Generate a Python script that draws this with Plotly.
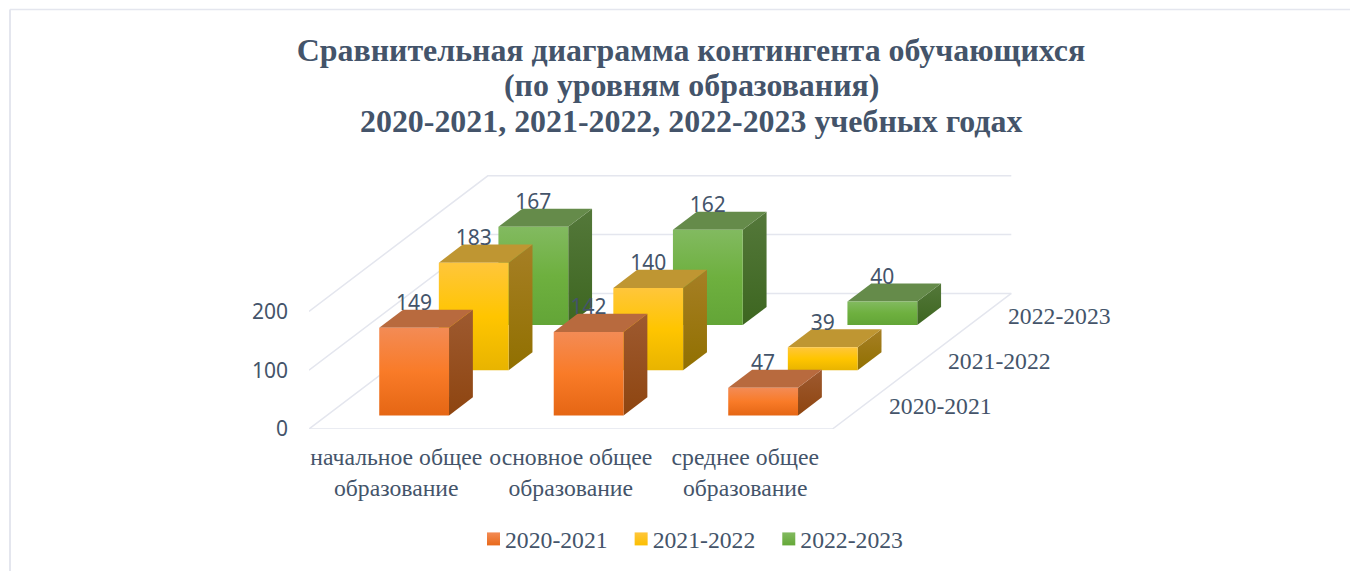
import plotly.graph_objects as go

# ---- data ----
categories = ["начальное общее<br>образование", "основное общее<br>образование", "среднее общее<br>образование"]
years = ["2020-2021", "2021-2022", "2022-2023"]
values_2020 = [149, 142, 47]
values_2021 = [183, 140, 39]
values_2022 = [167, 162, 40]
value_ticks = [0, 100, 200]
title_lines = ["Сравнительная диаграмма контингента обучающихся",
               "(по уровням образования)",
               "2020-2021, 2021-2022, 2022-2023 учебных годах"]

# ---- styling ----
series_values = [values_2020, values_2021, values_2022]
front_colors = [("#E56614", "#F97B28", "#F38B55"),
                ("#E8B400", "#FFC500", "#FFC63B"),
                ("#63A537", "#6EB03F", "#82BA60")]
top_colors = ["#B86A3E", "#BF9632", "#658B4A"]
side_colors = [("#8E4510", "#9E5A30"), ("#917000", "#A67F25"), ("#3D6620", "#54783A")]
legend_colors = [("#F38B55", "#E8691A"), ("#FFC63B", "#FBBF00"), ("#82BA60", "#65A838")]
TEXT = "#44546A"
GRID = "#E4E6EE"
SERIF = "Liberation Serif"
SANS = "Noto Sans"

# oblique projection: one depth step moves right (in categories) and up (in value units)
PX_PER_CAT = 174.5
PX_PER_VAL = 0.588
L, R, T, B = 309, 338, 175, 142
W, H = 1350, 571
DX = 59.6 / PX_PER_CAT
DY = 45.2 / PX_PER_VAL
N_CAT, N_DEPTH = len(categories), len(years)
GAP = 0.3
BAR = 0.4
LABEL_DROP = 9.5


def proj(cat, depth, val):
    return cat + depth * DX, val + depth * DY


def face(points, **kw):
    xs, ys = zip(*[proj(*p) for p in points])
    return go.Scatter(x=list(xs) + [xs[0]], y=list(ys) + [ys[0]], mode="lines", fill="toself",
                      line=dict(width=0), hoverinfo="skip", showlegend=False, cliponaxis=False, **kw)


def grad(stops):
    n = len(stops) - 1
    return dict(type="vertical", colorscale=[[i / n, c] for i, c in enumerate(stops)])


fig = go.Figure()

# wall and floor lines
for v in value_ticks:
    pts = [proj(0, 0, v), proj(0, N_DEPTH, v), proj(N_CAT, N_DEPTH, v)]
    fig.add_trace(go.Scatter(x=[p[0] for p in pts], y=[p[1] for p in pts], mode="lines",
                             line=dict(color=GRID, width=1.5), hoverinfo="skip", showlegend=False,
                             cliponaxis=False))
pts = [proj(0, 0, 0), proj(N_CAT, 0, 0), proj(N_CAT, N_DEPTH, 0)]
fig.add_trace(go.Scatter(x=[p[0] for p in pts], y=[p[1] for p in pts], mode="lines",
                         line=dict(color=GRID, width=1.5), hoverinfo="skip", showlegend=False,
                         cliponaxis=False))

# bars, back row first
for d in reversed(range(N_DEPTH)):
    for c, v in enumerate(series_values[d]):
        x0, x1 = c + GAP, c + GAP + BAR
        z0, z1 = d + GAP, d + GAP + BAR
        fig.add_trace(face([(x1, z0, 0), (x1, z1, 0), (x1, z1, v), (x1, z0, v)],
                           fillgradient=grad(side_colors[d])))
        fig.add_trace(face([(x0, z0, v), (x1, z0, v), (x1, z1, v), (x0, z1, v)],
                           fillcolor=top_colors[d]))
        fig.add_trace(face([(x0, z0, 0), (x1, z0, 0), (x1, z0, v), (x0, z0, v)],
                           fillgradient=grad(front_colors[d])))

# data labels
for d in range(N_DEPTH):
    lx, ly = [], []
    for c, v in enumerate(series_values[d]):
        px, py = proj(c + GAP + BAR / 2, d + GAP, v + BAR * DY - LABEL_DROP)
        lx.append(px)
        ly.append(py)
    fig.add_trace(go.Scatter(x=lx, y=ly, mode="text", text=[str(v) for v in series_values[d]],
                             textposition="top center", textfont=dict(family=SANS, size=21, color=TEXT),
                             hoverinfo="skip", showlegend=False, cliponaxis=False))

# legend entries
for d, y in enumerate(years):
    fig.add_trace(go.Scatter(x=[None], y=[None], mode="markers", name=y,
                             marker=dict(symbol="square", size=13, color=legend_colors[d][0],
                                         gradient=dict(type="vertical", color=legend_colors[d][1]))))

annotations = []
for d, y in enumerate(years):
    px, py = proj(N_CAT, d + 0.5, 0)
    annotations.append(dict(x=px, y=py, text=y, showarrow=False, xanchor="left", yanchor="middle",
                            xshift=24.5, font=dict(family=SERIF, size=23.7, color=TEXT)))
for line, ypx in zip(title_lines[1:], [86, 122]):
    annotations.append(dict(xref="paper", yref="paper", x=(691 - L) / (W - L - R),
                            y=(H - B - ypx) / (H - B - T), text=f"<b>{line}</b>", showarrow=False,
                            xanchor="center", yanchor="middle",
                            font=dict(family=SERIF, size=31.9, color=TEXT)))

px_w, px_h = W - L - R, H - T - B
fig.update_layout(
    width=W, height=H,
    margin=dict(l=L, r=R, t=T, b=B, pad=0, autoexpand=False),
    paper_bgcolor="white", plot_bgcolor="rgba(0,0,0,0)",
    title=dict(text=f"<b>{title_lines[0]}</b>", x=691 / W, xanchor="center", y=1 - 50 / H, yanchor="middle",
               yref="container", font=dict(family=SERIF, size=31.9, color=TEXT)),
    xaxis=dict(range=[0, px_w / PX_PER_CAT], tickvals=[i + 0.5 for i in range(N_CAT)], ticktext=categories,
               showgrid=False, zeroline=False, showline=False, ticks="", ticklabelstandoff=11,
               tickangle=0, tickfont=dict(family=SERIF, size=23.7, color=TEXT)),
    yaxis=dict(range=[0, px_h / PX_PER_VAL], tickvals=value_ticks, showgrid=False, zeroline=False,
               showline=False, ticks="", ticklabelstandoff=20,
               tickfont=dict(family=SANS, size=21, color=TEXT)),
    legend=dict(orientation="h", xref="paper", yref="paper", x=(465 - L) / px_w, y=(H - B - 539) / px_h,
                xanchor="left", yanchor="middle", font=dict(family=SERIF, size=23.7, color=TEXT),
                bgcolor="rgba(0,0,0,0)"),
    annotations=annotations,
    shapes=[
        dict(type="line", xref="paper", yref="paper", x0=(10 - L) / px_w, x1=(W - L) / px_w,
             y0=(H - B - 9.5) / px_h, y1=(H - B - 9.5) / px_h, line=dict(color=GRID, width=1.5)),
        dict(type="line", xref="paper", yref="paper", x0=(10 - L) / px_w, x1=(10 - L) / px_w,
             y0=(H - B - 9.5) / px_h, y1=(H - B - H) / px_h, line=dict(color=GRID, width=2)),
    ],
)

fig.write_html("out.html", config=dict(displayModeBar=False),
               post_script="document.body.style.margin='0';document.body.style.overflow='hidden';"
                           "document.querySelectorAll('.legendsymbols').forEach(function(g){"
                           "g.setAttribute('transform','translate(8.5,0)');});")
